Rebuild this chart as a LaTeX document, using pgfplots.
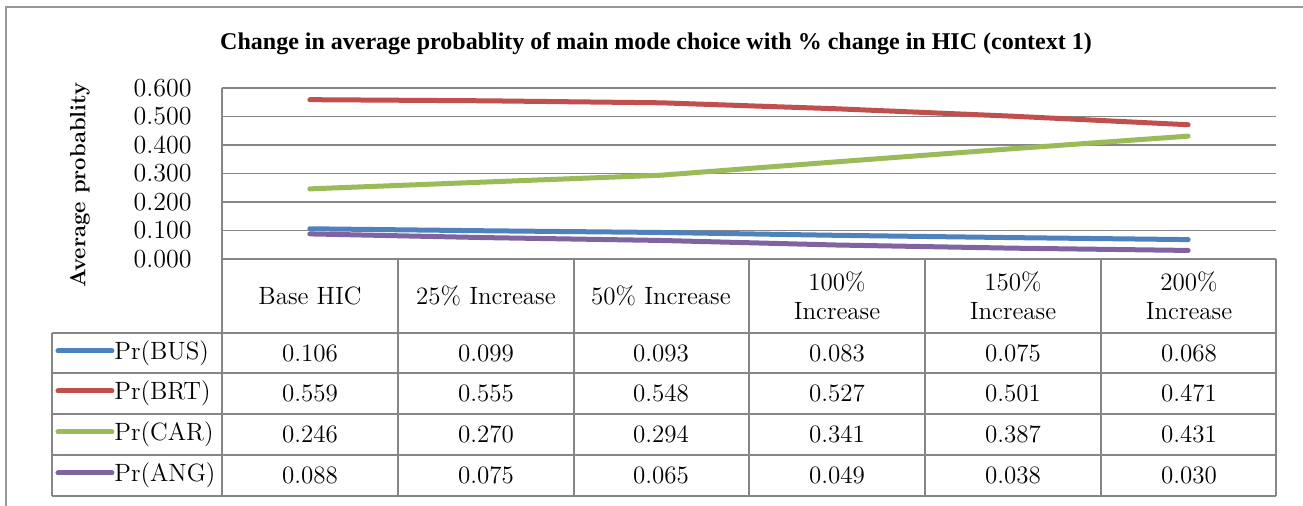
\documentclass[border=0pt]{standalone}
\usepackage{pgfplots}
\pgfplotsset{compat=1.18}
\usepackage{pgfplotstable}
\usepackage{fontspec}
\newfontfamily\titlefont{Liberation Serif}

\definecolor{busblue}{RGB}{79,129,189}
\definecolor{brtred}{RGB}{192,80,77}
\definecolor{cargreen}{RGB}{155,187,89}
\definecolor{angpurple}{RGB}{128,100,162}
\definecolor{gridgray}{RGB}{134,134,134}
\definecolor{framegray}{RGB}{150,150,150}

% average probability per HIC scenario (categories at 0.5, 1.5, ...)
\pgfplotstableread{
x   bus   brt   car   ang
0.5 0.106 0.559 0.246 0.088
1.5 0.099 0.555 0.270 0.075
2.5 0.093 0.548 0.294 0.065
3.5 0.083 0.527 0.341 0.049
4.5 0.075 0.501 0.387 0.038
5.5 0.068 0.471 0.431 0.030
}\probdata

\newcommand{\tabfont}{\fontsize{12.5}{14.5}\selectfont}

\begin{document}
\begin{tikzpicture}
\begin{axis}[
    scale only axis,
    width=527pt, height=85.5pt,
    xmin=0, xmax=6,
    ymin=0, ymax=0.6,
    xtick=\empty,
    ytick={0,0.1,0.2,0.3,0.4,0.5,0.6},
    ymajorgrids=true,
    grid style={gridgray, line width=0.9pt},
    axis line style={draw=none},
    major tick length=0pt,
    clip=false,
    yticklabel style={font=\fontsize{13}{15}\selectfont, inner sep=0pt, anchor=east, xshift=-15pt},
    /pgf/number format/fixed,
    /pgf/number format/fixed zerofill,
    /pgf/number format/precision=3,
    /pgf/number format/assume math mode=true,
]
\addplot[busblue, line width=2.5pt, line cap=round] table[x=x, y=bus] {\probdata};
\addplot[brtred, line width=2.5pt, line cap=round] table[x=x, y=brt] {\probdata};
\addplot[cargreen, line width=2.5pt, line cap=round] table[x=x, y=car] {\probdata};
\addplot[angpurple, line width=2.5pt, line cap=round] table[x=x, y=ang] {\probdata};
\end{axis}

% everything else in pixel units of the reference, origin at axis lower left
\begin{scope}[x=0.5pt, y=-0.5pt, shift={(-222,-259)}]
  \draw[framegray, line width=0.8pt] (6,7) rectangle (1330,530);
  \node[font=\titlefont\bfseries\fontsize{12}{14}\selectfont] at (656,44)
    {Change in average probablity of main mode choice with \% change in HIC (context 1)};
  \node[font=\bfseries\fontsize{11}{13}\selectfont, rotate=90] at (80,185) {Average probablity};

  % left axis line
  \draw[gridgray, line width=0.9pt] (222,88) -- (222,259);

  % data table grid
  \begin{scope}[gridgray, line width=0.9pt]
    \draw (222,259) -- (1276,259);
    \foreach \yy in {333,373,414,455,496} \draw (52,\yy) -- (1276,\yy);
    \draw (52,333) -- (52,496);
    \foreach \xx in {222,398,574,749,925,1101,1276} \draw (\xx,259) -- (\xx,496);
  \end{scope}

  % header
  \begin{scope}[every node/.style={font=\tabfont, align=center}]
    \node at (310,296) {Base HIC};
    \node at (486,296) {25\% Increase};
    \node at (661,296) {50\% Increase};
    \node at (837,296) {100\%\\Increase};
    \node at (1013,296) {150\%\\Increase};
    \node at (1189,296) {200\%\\Increase};
  \end{scope}

  % legend keys
  \foreach \yy/\cc/\nn in {353/busblue/BUS, 393/brtred/BRT, 434/cargreen/CAR, 475/angpurple/ANG} {
    \draw[\cc, line width=2.5pt, line cap=round] (58,\yy-2) -- (112,\yy-2);
    \node[font=\tabfont, anchor=west, inner sep=0pt] at (114,\yy) {Pr(\nn)};
  }

  % values
  \begin{scope}[every node/.style={font=\tabfont}]
    \foreach \xx/\a/\b/\c/\d in {310/0.106/0.559/0.246/0.088, 486/0.099/0.555/0.270/0.075,
        661/0.093/0.548/0.294/0.065, 837/0.083/0.527/0.341/0.049,
        1013/0.075/0.501/0.387/0.038, 1189/0.068/0.471/0.431/0.030} {
      \node at (\xx,353) {\a};
      \node at (\xx,393) {\b};
      \node at (\xx,434) {\c};
      \node at (\xx,475) {\d};
    }
  \end{scope}

  \pgfresetboundingbox
  \path[use as bounding box] (0,0) rectangle (1303,506);
\end{scope}
\end{tikzpicture}
\end{document}
